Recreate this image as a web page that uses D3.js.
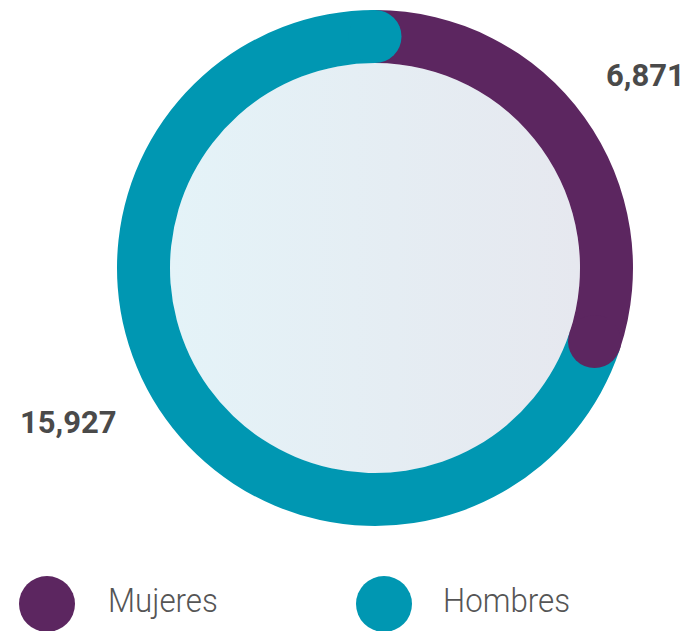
<!DOCTYPE html>
<html>
<head>
<meta charset="utf-8">
<script src="https://cdn.jsdelivr.net/npm/d3@7"></script>
<style>
  html, body { margin: 0; padding: 0; background: #fff; }
  svg { display: block; font-family: Roboto, "Noto Sans", sans-serif; }
</style>
</head>
<body>
<svg id="chart" width="687" height="631"></svg>
<script>
const categories = ["Mujeres", "Hombres"];
const values = [6871, 15927];
const colors = ["#5c2660", "#0097b2"];

const width = 687;
const height = 631;
const cx = 375;
const cy = 268;
const outerRadius = 258;
const innerRadius = 205;
const midRadius = (outerRadius + innerRadius) / 2;
const capRadius = (outerRadius - innerRadius) / 2;

const svg = d3.select("#chart");

const defs = svg.append("defs");
const grad = defs.append("linearGradient").attr("id", "inner-fill")
  .attr("x1", "0%").attr("x2", "100%").attr("y1", "0%").attr("y2", "0%");
grad.append("stop").attr("offset", "0%").attr("stop-color", "#e4f3f8");
grad.append("stop").attr("offset", "100%").attr("stop-color", "#e6e8ef");

const data = categories.map((name, i) => ({ name, value: values[i], color: colors[i] }));

const pie = d3.pie().value((d) => d.value).sort(null);
const arcs = pie(data);

const arc = d3.arc().innerRadius(innerRadius).outerRadius(outerRadius);

const root = svg.append("g").attr("transform", `translate(${cx},${cy})`);

root.append("circle")
  .attr("r", innerRadius)
  .attr("fill", "url(#inner-fill)");

root.selectAll("path.slice")
  .data(arcs)
  .join("path")
  .attr("class", "slice")
  .attr("d", arc)
  .attr("fill", (d) => d.data.color);

// rounded end of each slice, drawn on top of the next slice
root.selectAll("circle.cap")
  .data(arcs)
  .join("circle")
  .attr("class", "cap")
  .attr("cx", (d) => midRadius * Math.sin(d.endAngle))
  .attr("cy", (d) => -midRadius * Math.cos(d.endAngle))
  .attr("r", capRadius)
  .attr("fill", (d) => d.data.color);

// value labels
const labelPos = [
  { x: 606, y: 86 },
  { x: 20, y: 433 },
];

svg.selectAll("text.value")
  .data(arcs)
  .join("text")
  .attr("class", "value")
  .attr("x", (d, i) => labelPos[i].x)
  .attr("y", (d, i) => labelPos[i].y)
  .attr("font-size", 31)
  .attr("font-weight", 700)
  .attr("fill", "#4a4a4a")
  .text((d) => d3.format(",")(d.data.value));

// legend
const legend = svg.append("g").attr("class", "legend");
const legendX = d3.scalePoint().domain(categories).range([47, 384]);

const item = legend.selectAll("g")
  .data(data)
  .join("g")
  .attr("transform", (d) => `translate(${legendX(d.name)},604)`);

item.append("circle")
  .attr("r", 28)
  .attr("fill", (d) => d.color);

item.append("text")
  .attr("transform", (d, i) => `translate(${i === 0 ? 61 : 59},8) scale(0.92,1)`)
  .attr("font-size", 34)
  .attr("font-weight", 300)
  .attr("fill", "#555")
  .text((d) => d.name);
</script>
</body>
</html>
